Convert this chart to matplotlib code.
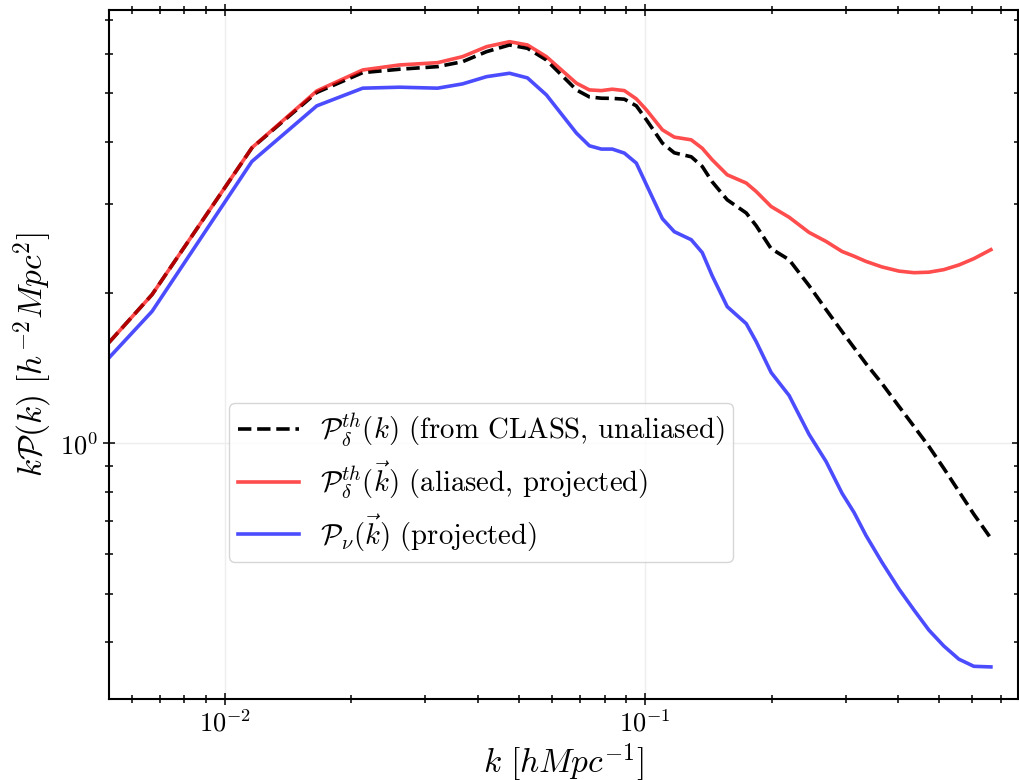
import numpy as np
import matplotlib
matplotlib.use('Agg')
import matplotlib.pyplot as plt
from matplotlib.ticker import NullFormatter

plt.rcParams['mathtext.fontset'] = 'cm'
plt.rcParams['font.family'] = 'serif'
plt.rcParams['font.serif'] = ['cmr10']
plt.rcParams['axes.unicode_minus'] = False
plt.rcParams['axes.formatter.use_mathtext'] = True

# k values [h/Mpc], shared by all three curves
k = [0.00530, 0.00671, 0.01159, 0.01654, 0.02127, 0.02604, 0.03205, 0.03675,
     0.04192, 0.04753, 0.05244, 0.05817, 0.06857, 0.07362, 0.07860, 0.08346,
     0.08916, 0.09519, 0.1006, 0.1098, 0.1172, 0.1286, 0.1366, 0.1442,
     0.1566, 0.1738, 0.1835, 0.1992, 0.2198, 0.2452, 0.2691, 0.2937,
     0.3136, 0.3348, 0.3654, 0.4012, 0.4355, 0.4726, 0.5130, 0.5569,
     0.6045, 0.6638]

# theory spectrum from CLASS (unaliased)
p_theory = [1.589, 1.981, 3.89, 5.023, 5.502, 5.589, 5.656, 5.786,
            6.060, 6.249, 6.154, 5.832, 5.081, 4.920, 4.891, 4.887,
            4.869, 4.722, 4.428, 3.978, 3.804, 3.735, 3.572, 3.330,
            3.064, 2.884, 2.720, 2.447, 2.326, 2.064, 1.849, 1.671,
            1.552, 1.442, 1.316, 1.184, 1.080, 0.985, 0.890, 0.801,
            0.721, 0.645]

# aliased, projected theory
p_alias = [1.589, 1.981, 3.893, 5.058, 5.570, 5.700, 5.760, 5.922,
           6.200, 6.344, 6.249, 5.922, 5.241, 5.081, 5.065, 5.098,
           5.065, 4.876, 4.636, 4.228, 4.089, 4.038, 3.884, 3.685,
           3.438, 3.310, 3.184, 2.971, 2.828, 2.637, 2.530, 2.416,
           2.364, 2.308, 2.250, 2.207, 2.191, 2.196, 2.222, 2.270,
           2.337, 2.436]

# projected nu spectrum
p_nu = [1.481, 1.834, 3.655, 4.722, 5.122, 5.145, 5.122, 5.224,
        5.401, 5.486, 5.370, 4.966, 4.165, 3.929, 3.870, 3.870,
        3.799, 3.628, 3.285, 2.809, 2.646, 2.550, 2.403, 2.161,
        1.874, 1.733, 1.596, 1.384, 1.245, 1.041, 0.919, 0.794,
        0.727, 0.654, 0.578, 0.511, 0.464, 0.423, 0.393, 0.370,
        0.358, 0.357]

labels = [r'$\mathcal{P}_\delta^{th}(k)$ (from CLASS, unaliased)',
          r'$\mathcal{P}_\delta^{th}(\vec{k})$ (aliased, projected)',
          r'$\mathcal{P}_\nu(\vec{k})$ (projected)']

fig = plt.figure(figsize=(10.19, 7.8), dpi=100)
ax = fig.add_axes([109 / 1019, 81 / 780, 909 / 1019, 689 / 780])

ax.plot(k, p_theory, 'k--', lw=2.6, label=labels[0])
ax.plot(k, p_alias, color='r', alpha=0.7, lw=2.6, label=labels[1])
ax.plot(k, p_nu, color='b', alpha=0.7, lw=2.6, label=labels[2])

ax.set_xscale('log')
ax.set_yscale('log')
ax.set_xlim(0.0053, 0.77)
ax.set_ylim(0.308, 7.34)

ax.yaxis.set_minor_formatter(NullFormatter())
ax.xaxis.set_minor_formatter(NullFormatter())
ax.tick_params(which='both', direction='inout', top=True, right=True,
               labelsize=19, width=1.1)
ax.tick_params(which='major', length=8)
ax.tick_params(which='minor', length=6)
for s in ax.spines.values():
    s.set_linewidth(1.5)

ax.grid(True, which='major', color='#eeeeee', lw=1)
ax.set_axisbelow(True)

ax.set_xlabel(r'$k\ [hMpc^{-1}]$', fontsize=24, labelpad=4)
ax.set_ylabel(r'$k\mathcal{P}(k)\ [h^{-2}Mpc^2]$', fontsize=24, labelpad=4)

ax.legend(loc='lower left', bbox_to_anchor=(0.132, 0.199), borderaxespad=0,
          fontsize=20.7, fancybox=True, framealpha=0.8, edgecolor='#cccccc',
          handlelength=2.15, handletextpad=0.7, labelspacing=0.4,
          borderpad=0.3)

plt.savefig('out.png', dpi=100)
plt.close()
